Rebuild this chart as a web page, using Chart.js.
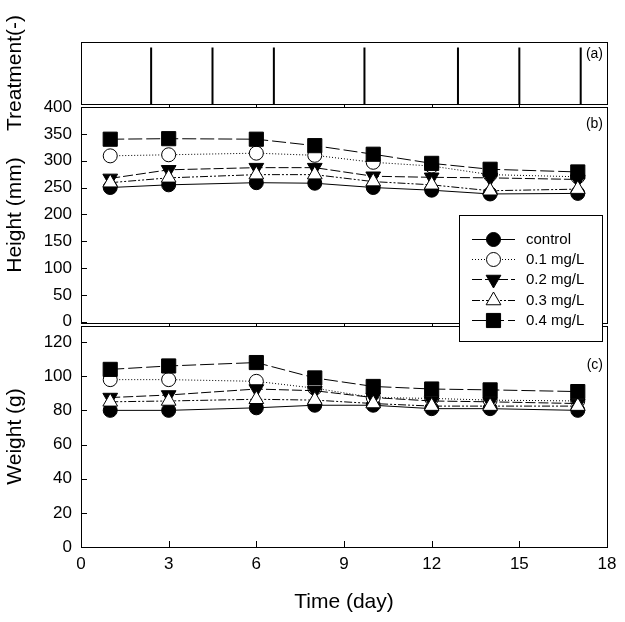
<!DOCTYPE html>
<html>
<head>
<meta charset="utf-8">
<script src="https://cdn.jsdelivr.net/npm/chart.js@4.4.1/dist/chart.umd.min.js"></script>
<style>
html,body{margin:0;padding:0;background:#fff;}
#wrap{position:relative;width:625px;height:622px;background:#fff;}
#wrap canvas{position:absolute;left:0;top:0;}
</style>
</head>
<body>
<div id="wrap">
<canvas id="ca" width="625" height="622"></canvas>
<canvas id="cc" width="625" height="622"></canvas>
<canvas id="cb" width="625" height="622"></canvas>
</div>
<script>
// ---------------- data ----------------
const days = [1, 3, 6, 8, 10, 12, 14, 17];
const seriesNames = ['control', '0.1 mg/L', '0.2 mg/L', '0.3 mg/L', '0.4 mg/L'];

const heightControl = [250, 255, 259, 258, 250, 245, 238, 239];
const height01      = [309, 311, 314, 310, 297, 290, 274, 270];
const height02      = [267, 283, 287, 287, 271, 269, 268, 265];
const height03      = [259, 268, 274, 274, 261, 255, 244, 247];
const height04      = [340, 341, 340, 328, 312, 295, 284, 279];

const weightControl = [80, 80, 81.5, 83, 83, 81, 81, 80];
const weight01      = [98, 98, 97, 93, 87.5, 87, 86, 85.5];
const weight02      = [87.5, 89, 92.5, 91.5, 87.5, 85.5, 85, 84];
const weight03      = [85, 85.5, 86.5, 86, 84, 82.5, 82.5, 82.5];
const weight04      = [104, 106, 108, 99, 94, 92.5, 92, 91];

const treatmentDays = [2.4, 4.5, 6.6, 9.7, 12.9, 15.0, 17.1];
const treatmentLevel = 0.91;

const xTicks = [0, 3, 6, 9, 12, 15, 18];
const heightTicks = [0, 50, 100, 150, 200, 250, 300, 350, 400];
const weightTicks = [0, 20, 40, 60, 80, 100, 120];

// ---------------- styles ----------------
const FONT = "'Liberation Sans', Arial, sans-serif";
const tickFont = {family: FONT, size: 17};
const titleFont = {family: FONT, size: 21};
Chart.defaults.color = '#000';
Chart.defaults.font.family = FONT;

const seriesStyles = [
  {pointStyle: 'circle',   radius: 7,   rotation: 0,   fill: '#000', dash: []},
  {pointStyle: 'circle',   radius: 7,   rotation: 0,   fill: '#fff', dash: [1, 2]},
  {pointStyle: 'triangle', radius: 8.5, rotation: 180, fill: '#000', dash: [10, 3]},
  {pointStyle: 'triangle', radius: 8.5, rotation: 0,   fill: '#fff', dash: [8, 2, 2, 2, 2, 2]},
  {pointStyle: 'rect',     radius: 10,  rotation: 0,   fill: '#000', dash: [14, 4]}
];

function seriesDatasets(list) {
  return list.map((vals, i) => {
    const st = seriesStyles[i];
    return {
      label: seriesNames[i],
      data: days.map((d, j) => ({x: d, y: vals[j]})),
      borderColor: '#000', borderWidth: 1, borderDash: st.dash,
      pointStyle: st.pointStyle, pointRadius: st.radius, pointRotation: st.rotation,
      pointBackgroundColor: st.fill, pointBorderColor: '#000', pointBorderWidth: 1,
      order: 5 - i, tension: 0, fill: false
    };
  });
}

const treatmentPoints = [];
treatmentDays.forEach(d => {
  treatmentPoints.push({x: d, y: 0}, {x: d, y: treatmentLevel}, {x: d, y: null});
});

// ---------------- plugins ----------------
const framePlugin = {
  id: 'frame',
  afterDraw(chart, args, o) {
    const ctx = chart.ctx, a = chart.chartArea;
    const L = Math.round(a.left), R = Math.round(a.right), T = Math.round(a.top), B = Math.round(a.bottom);
    ctx.save();
    ctx.setLineDash([]);
    ctx.strokeStyle = '#000';
    ctx.lineWidth = 1;
    ctx.strokeRect(L + 0.5, T + 0.5, R - L, B - T);
    ctx.beginPath();
    if (o.yTicks) {
      chart.scales.y.ticks.forEach(t => {
        const py = Math.round(chart.scales.y.getPixelForValue(t.value)) + 0.5;
        ctx.moveTo(L, py); ctx.lineTo(L + 6, py);
      });
    }
    const xs = chart.scales.x;
    xs.ticks.forEach(t => {
      if (t.value <= xs.min || t.value >= xs.max) return;
      const px = Math.round(xs.getPixelForValue(t.value)) + 0.5;
      if (o.xTicksBottom) { ctx.moveTo(px, B); ctx.lineTo(px, B - 6); }
      if (o.xMarksTop) { ctx.moveTo(px, T); ctx.lineTo(px, T - 3); }
    });
    ctx.stroke();
    if (o.label) {
      ctx.fillStyle = '#000';
      ctx.font = '14px ' + FONT;
      ctx.textAlign = 'right';
      ctx.textBaseline = 'middle';
      ctx.fillText(o.label, R - 4, o.labelY);
    }
    ctx.restore();
  }
};

const legendPlugin = {
  id: 'seriesLegend',
  afterDraw(chart, args, o) {
    if (!o.show) return;
    const ctx = chart.ctx;
    const bx = 459, by = 215, bw = 143, bh = 126;
    ctx.save();
    ctx.fillStyle = '#fff';
    ctx.fillRect(bx, by, bw, bh);
    ctx.strokeStyle = '#000';
    ctx.lineWidth = 1;
    ctx.setLineDash([]);
    ctx.strokeRect(bx + 0.5, by + 0.5, bw, bh);
    chart.data.datasets.forEach((ds, i) => {
      const y = Math.round(238.5 + 20.4 * i) + 0.5;
      ctx.setLineDash(ds.borderDash);
      ctx.strokeStyle = '#000';
      ctx.lineWidth = 1;
      ctx.beginPath(); ctx.moveTo(472, y); ctx.lineTo(515, y); ctx.stroke();
      ctx.setLineDash([]);
      ctx.fillStyle = ds.pointBackgroundColor;
      ctx.strokeStyle = '#000';
      ctx.lineWidth = 1;
      Chart.helpers.drawPoint(ctx, {pointStyle: ds.pointStyle, rotation: ds.pointRotation, radius: ds.pointRadius, borderWidth: 1}, 493.5, y);
      ctx.fillStyle = '#000';
      ctx.font = '15px ' + FONT;
      ctx.textAlign = 'left';
      ctx.textBaseline = 'middle';
      ctx.fillText(ds.label, 526, y);
    });
    ctx.restore();
  }
};

function yAxis(min, max, ticksArr, title, showTicks) {
  return {
    type: 'linear', min: min, max: max,
    afterBuildTicks: s => { s.ticks = ticksArr.map(v => ({value: v})); },
    afterFit: s => { s.width = 81; },
    ticks: {display: showTicks, font: tickFont, color: '#000', padding: 9},
    grid: {display: true, drawOnChartArea: false, drawTicks: false},
    border: {display: false},
    title: {display: true, text: title, font: titleFont, color: '#000', padding: {top: 3, bottom: 0}}
  };
}

function common(padTop, padBottom) {
  return {
    responsive: false, animation: false, devicePixelRatio: 1,
    layout: {padding: {left: 0, right: 18, top: padTop, bottom: padBottom}},
    events: []
  };
}

// ---------------- panel (a) ----------------
new Chart(document.getElementById('ca'), {
  type: 'line',
  data: {datasets: [{data: treatmentPoints, borderColor: '#000', borderWidth: 2, pointRadius: 0, spanGaps: false, fill: false}]},
  options: Object.assign(common(42, 518), {
    scales: {
      x: {type: 'linear', min: 0, max: 18, display: false,
          afterBuildTicks: s => { s.ticks = xTicks.map(v => ({value: v})); }},
      y: yAxis(0, 1, [], 'Treatment(-)', false)
    },
    plugins: {legend: {display: false}, tooltip: {enabled: false},
      frame: {yTicks: false, xTicksBottom: false, xMarksTop: false, label: '(a)', labelY: 54}}
  }),
  plugins: [framePlugin]
});

// ---------------- panel (c) ----------------
new Chart(document.getElementById('cc'), {
  type: 'line',
  data: {datasets: seriesDatasets([weightControl, weight01, weight02, weight03, weight04])},
  options: Object.assign(common(326, 0), {
    scales: {
      x: {type: 'linear', min: 0, max: 18,
          afterBuildTicks: s => { s.ticks = xTicks.map(v => ({value: v})); },
          afterFit: s => { s.height = 75; },
          ticks: {font: tickFont, color: '#000', padding: 7, autoSkip: false, maxRotation: 0},
          grid: {display: true, drawOnChartArea: false, drawTicks: false},
          border: {display: false},
          title: {display: true, text: 'Time (day)', font: titleFont, color: '#000', padding: {top: 0, bottom: 7}}},
      y: yAxis(0, 129.4, weightTicks, 'Weight (g)', true)
    },
    plugins: {legend: {display: false}, tooltip: {enabled: false},
      frame: {yTicks: true, xTicksBottom: true, xMarksTop: true, label: '(c)', labelY: 365}}
  }),
  plugins: [framePlugin]
});

// ---------------- panel (b) ----------------
new Chart(document.getElementById('cb'), {
  type: 'line',
  data: {datasets: seriesDatasets([heightControl, height01, height02, height03, height04])},
  options: Object.assign(common(107, 299), {
    scales: {
      x: {type: 'linear', min: 0, max: 18, display: false,
          afterBuildTicks: s => { s.ticks = xTicks.map(v => ({value: v})); }},
      y: yAxis(-2.4, 400, heightTicks, 'Height (mm)', true)
    },
    plugins: {legend: {display: false}, tooltip: {enabled: false},
      frame: {yTicks: true, xTicksBottom: false, xMarksTop: true, label: '(b)', labelY: 124},
      seriesLegend: {show: true}}
  }),
  plugins: [framePlugin, legendPlugin]
});
</script>
</body>
</html>
